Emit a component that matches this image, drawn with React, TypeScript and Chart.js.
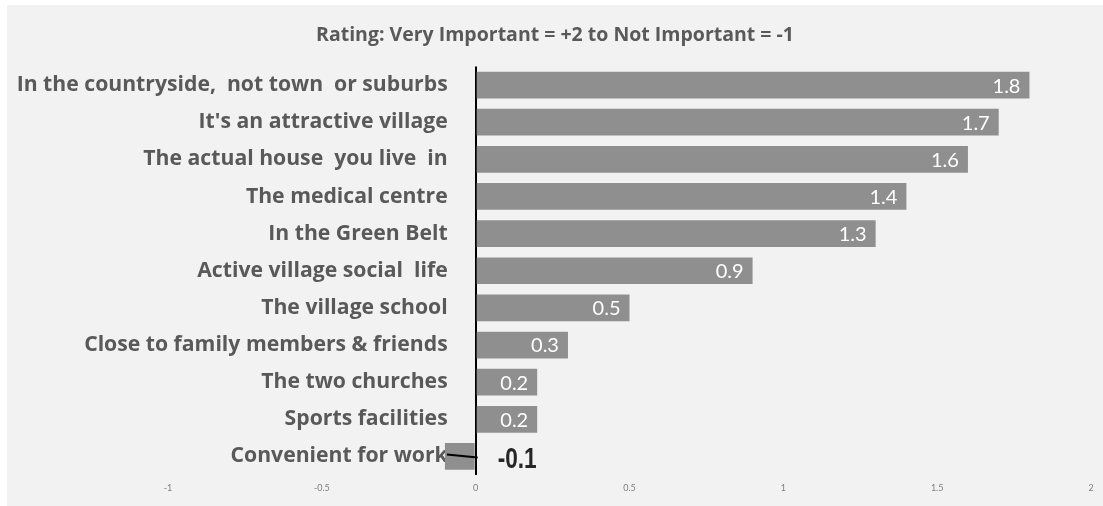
import React, { useEffect, useRef } from "react";
import { Chart, registerables } from "chart.js";

Chart.register(...registerables);

const categories = [
  "In the countryside,  not town  or suburbs",
  "It's an attractive village",
  "The actual house  you live  in",
  "The medical centre",
  "In the Green Belt",
  "Active village social  life",
  "The village school",
  "Close to family members & friends",
  "The two churches",
  "Sports facilities",
  "Convenient for work",
];

const ratings = [1.8, 1.7, 1.6, 1.4, 1.3, 0.9, 0.5, 0.3, 0.2, 0.2, -0.1];

const titleText = "Rating: Very Important = +2 to Not Important = -1";

const xMin = -1;
const xMax = 2;
const xStep = 0.5;
const xTickLabels = ["-1", "-0.5", "0", "0.5", "1", "1.5", "2"];

const labelPlugin = {
  id: "barValueLabels",
  afterDatasetsDraw(chart: any) {
    const ctx = chart.ctx;
    const meta = chart.getDatasetMeta(0);
    const xScale = chart.scales.x;
    const zeroX = xScale.getPixelForValue(0);
    ctx.save();
    meta.data.forEach((bar: any, i: number) => {
      const v = ratings[i];
      const text = v.toFixed(1);
      if (v >= 0) {
        ctx.font = "20px Lato, 'Open Sans', sans-serif";
        ctx.fillStyle = "#ffffff";
        ctx.textAlign = "right";
        ctx.textBaseline = "middle";
        ctx.fillText(text, bar.x - 9, bar.y + 1);
      } else {
        ctx.strokeStyle = "#000000";
        ctx.lineWidth = 2;
        ctx.beginPath();
        ctx.moveTo(bar.x + 2, bar.y - 2);
        ctx.lineTo(zeroX + 2, bar.y + 1);
        ctx.stroke();
        ctx.save();
        ctx.translate(zeroX + 22, bar.y + 4);
        ctx.scale(0.78, 1);
        ctx.font = "bold 29px 'Liberation Sans', Arial, sans-serif";
        ctx.fillStyle = "#262626";
        ctx.textAlign = "left";
        ctx.textBaseline = "middle";
        ctx.fillText(text, 0, 0);
        ctx.restore();
      }
    });
    ctx.restore();
  },
};

const titlePlugin = {
  id: "centeredTitle",
  afterDraw(chart: any) {
    const ctx = chart.ctx;
    ctx.save();
    ctx.font = "bold 19.5px 'Open Sans', Lato, sans-serif";
    ctx.fillStyle = "#595959";
    ctx.textAlign = "center";
    ctx.textBaseline = "middle";
    ctx.fillText(titleText, chart.width / 2, 30);
    ctx.restore();
  },
};

export default function App() {
  const canvasRef = useRef<HTMLCanvasElement | null>(null);

  useEffect(() => {
    document.body.style.margin = "0";
    const canvas = canvasRef.current;
    if (!canvas) return;
    const chart = new Chart(canvas, {
      type: "bar",
      data: {
        labels: categories,
        datasets: [
          {
            data: ratings,
            backgroundColor: "#8f8f8f",
            borderWidth: 0,
            barPercentage: 0.9,
            categoryPercentage: 0.8,
          },
        ],
      },
      options: {
        indexAxis: "y",
        responsive: false,
        animation: false,
        layout: { padding: { left: 161, right: 12, top: 61.5, bottom: 4.2 } },
        plugins: {
          legend: { display: false },
          tooltip: { enabled: false },
          title: { display: false },
        },
        scales: {
          x: {
            min: xMin,
            max: xMax,
            grid: {
              display: true,
              drawTicks: false,
              color: (c: any) => (c.tick && c.tick.value === 0 ? "#000000" : "rgba(0,0,0,0)"),
              lineWidth: 2,
            },
            border: { display: false },
            ticks: {
              stepSize: xStep,
              color: "#7f7f7f",
              font: { family: "Lato, 'Open Sans', sans-serif", size: 9 },
              padding: 8,
              callback: (_v: any, i: number) => xTickLabels[i],
            },
          },
          y: {
            position: { x: -0.091 } as any,
            grid: { display: false, drawTicks: false },
            border: { display: false },
            ticks: {
              color: "#595959",
              font: { family: "'Open Sans', Lato, sans-serif", size: 21.2, weight: "bold" },
              padding: 0,
            },
          },
        },
      },
      plugins: [labelPlugin, titlePlugin],
    });
    return () => chart.destroy();
  }, []);

  return (
    <div
      style={{
        position: "absolute",
        left: 7,
        top: 5,
        width: 1096,
        height: 501,
        background: "#f2f2f2",
      }}
    >
      <canvas ref={canvasRef} width={1096} height={501} />
    </div>
  );
}
